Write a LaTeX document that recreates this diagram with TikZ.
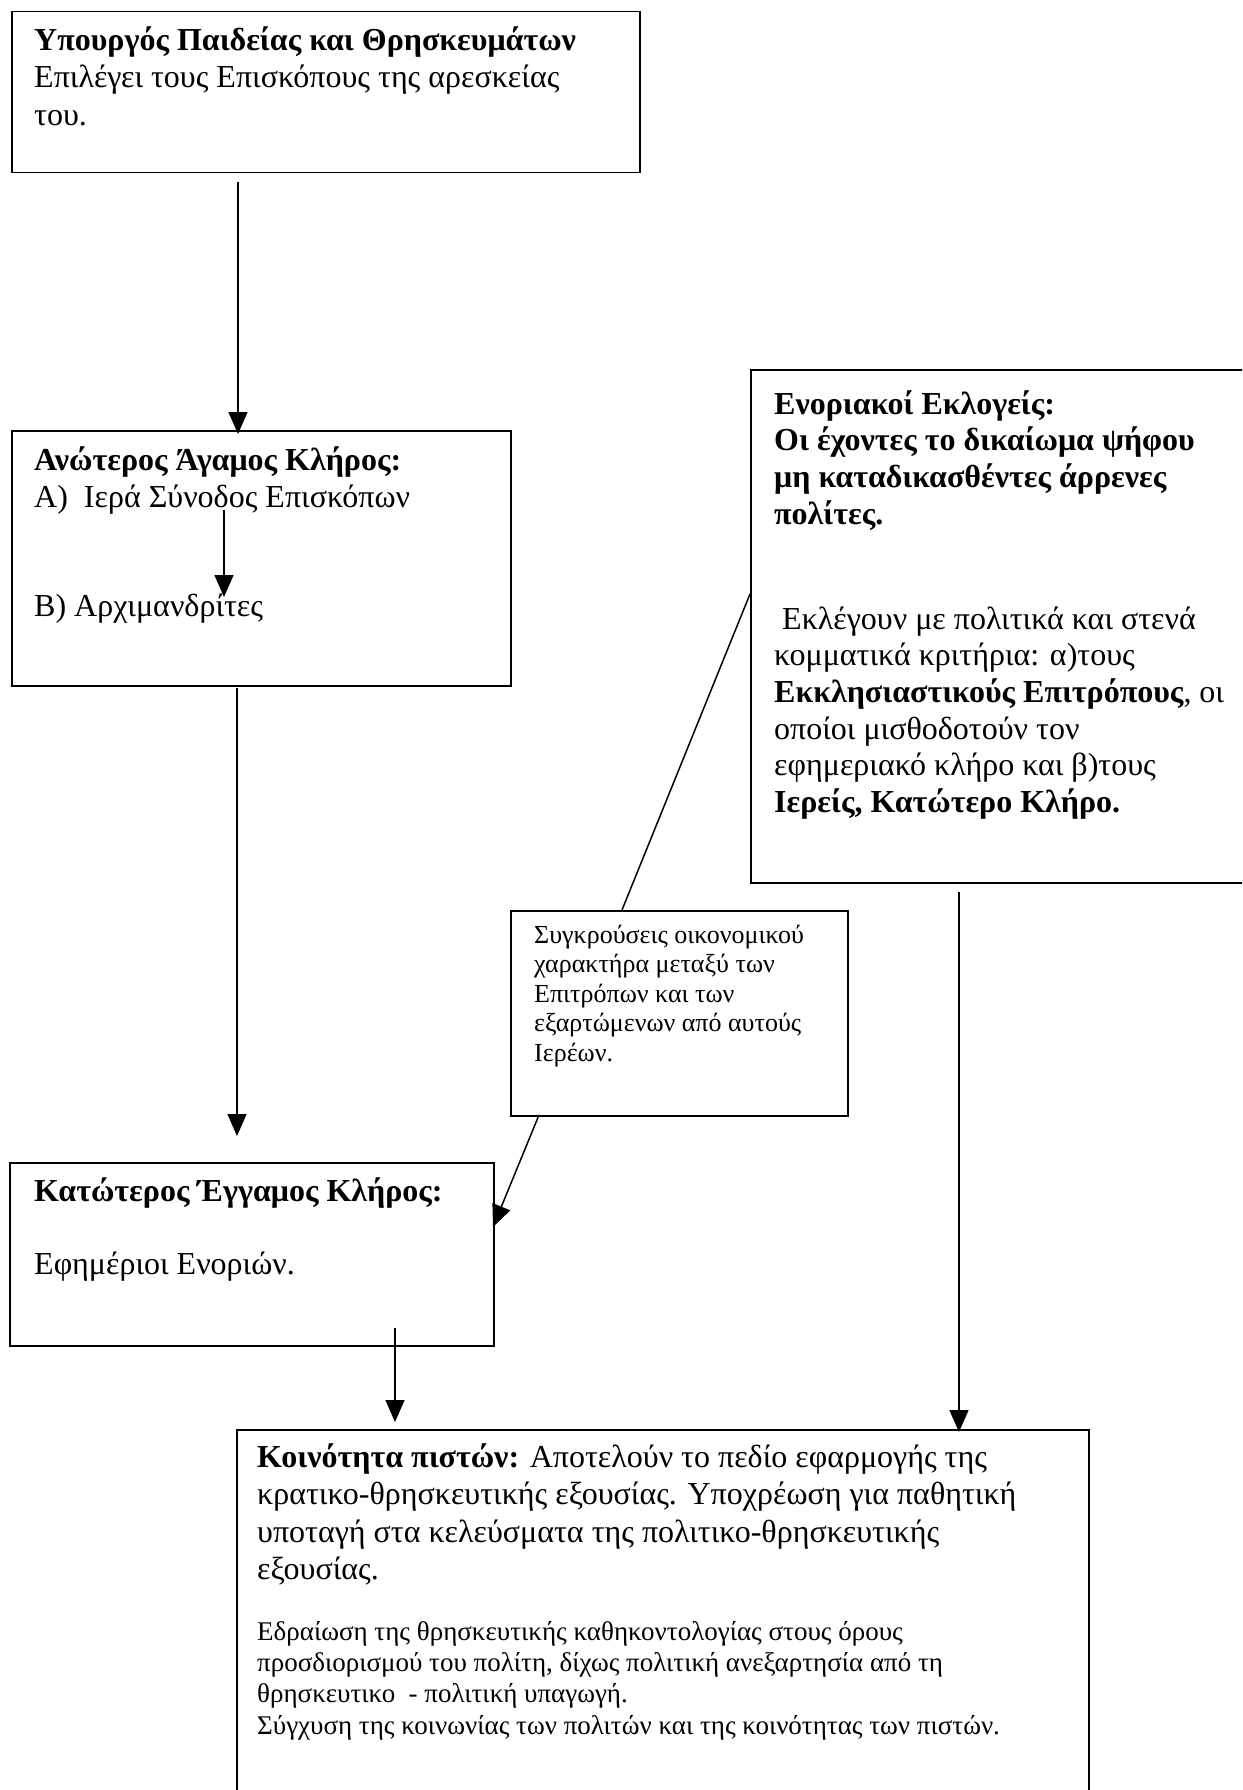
\documentclass[tikz,border=0pt]{standalone}
\usepackage{fontspec}
\setmainfont{Liberation Serif}
\usetikzlibrary{arrows.meta}
\newcommand\fA{\fontsize{32}{37.5}\selectfont}
\newcommand\fE{\fontsize{32}{36.6}\selectfont}
\newcommand\fS{\fontsize{26}{29.5}\selectfont}
\newcommand\fK{\fontsize{32}{37.4}\selectfont}
\newcommand\fL{\fontsize{27}{31.3}\selectfont}
\newcommand\stA{\rule{0pt}{30pt}}
\newcommand\stS{\rule{0pt}{25pt}}
\newcommand\stL{\rule{0pt}{26pt}}
\begin{document}
\begin{tikzpicture}[x=1pt,y=-1pt,
  box/.style={draw=black, line width=1.5pt, rectangle, inner sep=0pt, anchor=north west},
  txt/.style={inner sep=0pt, anchor=north west, align=left},
  arr/.style={line width=1.5pt, -{Triangle[width=19pt,length=22pt]}},
  ln/.style={line width=1.5pt}]
\useasboundingbox (0,0) rectangle (1242,1790);
\clip (0,0) rectangle (1242,1790);
\fill[white] (0,0) rectangle (1242,1790);
% boxes
\node[box, minimum width=628pt, minimum height=161pt] (b1) at (11,11) {};
\node[box, minimum width=499pt, minimum height=255pt] (b2) at (11,430) {};
\node[box, minimum width=520pt, minimum height=513pt] (b5) at (750,369) {};
\node[box, minimum width=337pt, minimum height=205pt] (b6) at (510,910) {};
\node[box, minimum width=484pt, minimum height=183pt] (b3) at (9,1162) {};
\node[box, minimum width=852pt, minimum height=400pt] (b4) at (236,1429) {};
% texts
\node[txt, font=\fA] (t1) at (34,20) {\stA\textbf{Υπουργός Παιδείας και Θρησκευμάτων}\\Επιλέγει τους Επισκόπους της αρεσκείας\\του.};
\node[txt, font=\fA] (t2) at (34,440) {\stA\textbf{Ανώτερος Άγαμος Κλήρος:}\\Α)\ \ Ιερά Σύνοδος Επισκόπων};
\node[txt, font=\fA] (t2b) at (34,586) {\stA Β) Αρχιμανδρίτες};
\node[txt, font=\fA] (t3) at (34,1171) {\stA\textbf{Κατώτερος Έγγαμος Κλήρος:}};
\node[txt, font=\fA] (t3b) at (34,1244) {\stA Εφημέριοι Ενοριών.};
\node[txt, font=\fE] (t5) at (774,384) {\stA\textbf{Ενοριακοί Εκλογείς:}\\\textbf{Οι έχοντες το δικαίωμα ψήφου}\\\textbf{μη καταδικασθέντες άρρενες}\\\textbf{πολίτες.}};
\node[txt, font=\fE] (t5b) at (774,599) {\stA\ Εκλέγουν με πολιτικά και στενά\\κομματικά κριτήρια: α)τους\\\textbf{Εκκλησιαστικούς Επιτρόπους}, οι\\οποίοι μισθοδοτούν τον\\εφημεριακό κλήρο και β)τους\\\textbf{Ιερείς, Κατώτερο Κλήρο.}};
\node[txt, font=\fS] (t6) at (534,918) {\stS Συγκρούσεις οικονομικού\\χαρακτήρα μεταξύ των\\Επιτρόπων και των\\εξαρτώμενων από αυτούς\\Ιερέων.};
\node[txt, font=\fK] (t4) at (257,1437) {\stA\textbf{Κοινότητα πιστών:} Αποτελούν το πεδίο εφαρμογής της\\κρατικο-θρησκευτικής εξουσίας. Υποχρέωση για παθητική\\υποταγή στα κελεύσματα της πολιτικο-θρησκευτικής\\εξουσίας.};
\node[txt, font=\fL] (t4b) at (257,1614) {\stL Εδραίωση της θρησκευτικής καθηκοντολογίας στους όρους\\προσδιορισμού του πολίτη, δίχως πολιτική ανεξαρτησία από τη\\θρησκευτικο\ \ - πολιτική υπαγωγή.\\Σύγχυση της κοινωνίας των πολιτών και της κοινότητας των πιστών.};
% connector ends
\coordinate (a1s) at (238,182);
\coordinate (ias) at (224,510);
\coordinate (iae) at (224,597);
\coordinate (a2s) at (237,688);
\coordinate (a2e) at (237,1136);
\coordinate (d1s) at (750,594);
\coordinate (d1e) at (622,910);
\coordinate (d2s) at (539,1115);
\coordinate (d2e) at (493,1227);
\coordinate (a3s) at (395,1328);
\coordinate (a3e) at (395,1422);
\coordinate (a4s) at (959,892);
% connectors
\draw[arr] (a1s) -- ([yshift=-4pt]a1s |- b2.north);
\draw[arr] (ias) -- (iae);
\draw[arr] (a2s) -- (a2e);
\draw[ln] (d1s) -- (d1e);
\draw[arr] (d2s) -- (d2e);
\draw[arr] (a3s) -- (a3e);
\draw[arr] (a4s) -- ([yshift=-3pt]a4s |- b4.north);
\end{tikzpicture}
\end{document}
